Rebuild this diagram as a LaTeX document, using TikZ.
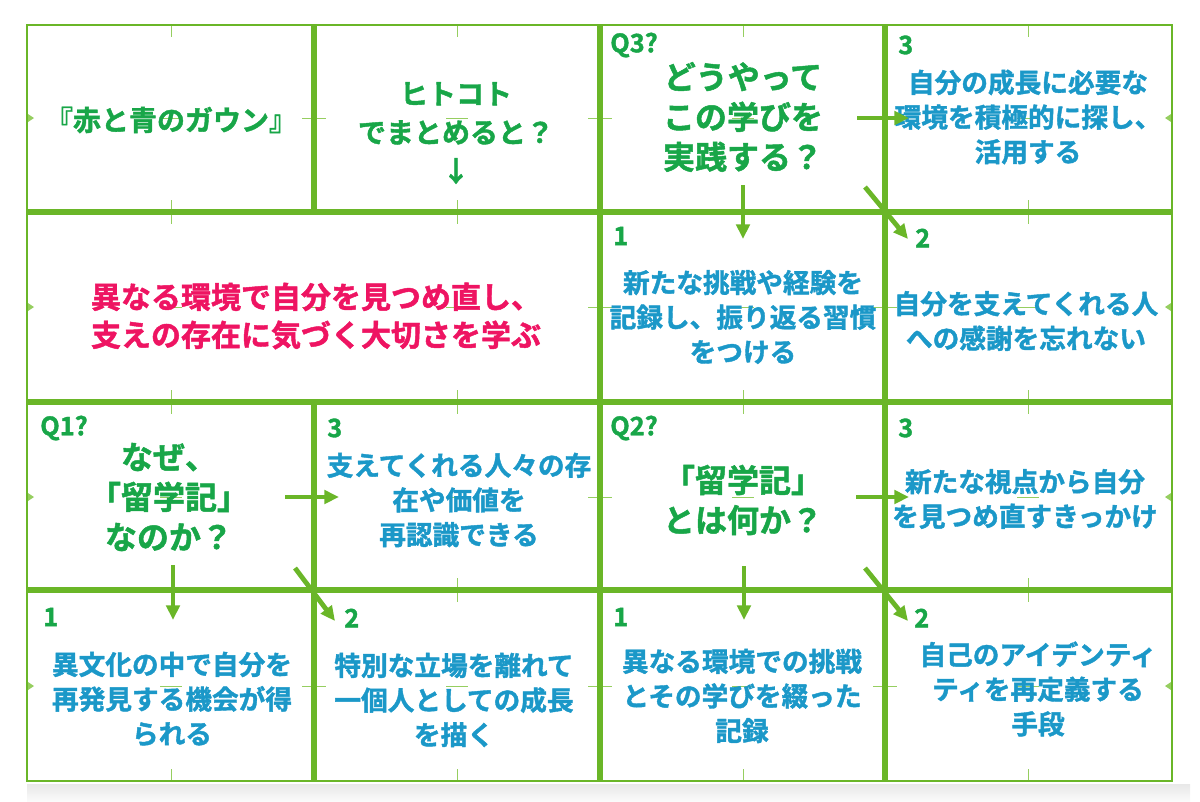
\documentclass[tikz,border=0pt]{standalone}
\usepackage{fontspec}
\setmainfont{Noto Sans CJK JP}[UprightFont={* Bold}, UprightFeatures={FakeBold=1.5}]
\usetikzlibrary{arrows.meta}
\definecolor{gridgreen}{RGB}{106,182,40}
\definecolor{guidegreen}{RGB}{150,206,96}
\definecolor{headgreen}{RGB}{24,166,72}
\definecolor{textblue}{RGB}{27,152,200}
\definecolor{keypink}{RGB}{238,20,98}
\tikzset{
  answer/.style={align=center, text=textblue, font=\fontsize{20}{26}\selectfont, inner sep=0.75pt},
  question/.style={align=center, text=headgreen, font=\fontsize{24}{30}\selectfont, inner sep=0.75pt},
  lead/.style={align=center, text=headgreen, font=\fontsize{21}{29}\selectfont, inner sep=0.75pt},
  tag/.style={anchor=west, text=headgreen, font=\fontsize{19}{22}\selectfont, inner sep=0.75pt},
  flow/.style={draw=gridgreen, line width=3.6pt, -{Triangle[length=11pt,width=10pt]}},
  guide/.style={draw=guidegreen, line width=0.6pt},
  rule/.style={draw=gridgreen, line width=4.8pt},
  border/.style={draw=gridgreen, line width=2.2pt},
}
\begin{document}
\begin{tikzpicture}[x=0.75pt,y=0.75pt,yscale=-1,xscale=1]
\useasboundingbox (0,0) rectangle (1200,801);
%Shape: shadow under the sheet
\shade [top color=black!9, bottom color=black!2, draw=none] (27,784) rectangle (1190,801);
%Shape: guide marks
\foreach \cy in {118,307,497,686} {
  \foreach \ex in {314,600,885} \draw [guide] (\ex-12,\cy) -- (\ex+12,\cy);
  \foreach \cx in {171,457,743,1028} \draw [guide] (\cx-11,\cy) -- (\cx+11,\cy);
  \fill [guidegreen] (28,\cy-4) -- (34,\cy) -- (28,\cy+4) -- cycle;
  \fill [guidegreen] (1171,\cy-4) -- (1165,\cy) -- (1171,\cy+4) -- cycle;
}
\foreach \cx in {171,457,743,1028} {
  \foreach \ey in {212,402,590} \draw [guide] (\cx,\ey-12) -- (\cx,\ey+12);
  \draw [guide] (\cx,25) -- (\cx,37);
  \draw [guide] (\cx,769) -- (\cx,781);
}
%Shape: grid
\draw [border] (27,25) rectangle (1172,781);
\draw [rule] (27,212) -- (1172,212);
\draw [rule] (27,402) -- (1172,402);
\draw [rule] (27,590) -- (1172,590);
\draw [rule] (314,25) -- (314,212);
\draw [rule] (314,402) -- (314,781);
\draw [rule] (600,25) -- (600,781);
\draw [rule] (885,25) -- (885,781);
% Text Node
\draw (171,120) node (title) [lead] {『赤と青のガウン』};
% Text Node
\draw (456,133) node (oneword) [lead] {ヒトコト\\でまとめると？\\↓};
% Text Node
\draw (316,316) node (summary) [align=center, text=keypink, font=\fontsize{22.5}{28.5}\selectfont, inner sep=0.75pt] {異なる環境で自分を見つめ直し、\\支えの存在に気づく大切さを学ぶ};
% Text Node
\draw (609,45) node (q3tag) [tag] {Q3?};
\draw (743,117) node (q3) [question] {どうやって\\この学びを\\実践する？};
\draw (897,45) node (q3tagc) [tag] {3};
\draw (1028,117) node (q3c) [answer] {自分の成長に必要な\\環境を積極的に探し、\\活用する};
\draw (612,236) node (q3taga) [tag] {1};
\draw (914,238) node (q3tagb) [tag] {2};
\draw (743,317) node (q3a) [answer] {新たな挑戦や経験を\\記録し、振り返る習慣\\をつける};
\draw (1026,321) node (q3b) [answer] {自分を支えてくれる人\\への感謝を忘れない};
% Text Node
\draw (39,428) node (q1tag) [tag] {Q1?};
\draw (169,497) node (q1) [question] {なぜ、\\「留学記」\\なのか？};
\draw (326,428) node (q1tagc) [tag] {3};
\draw (459,500) node (q1c) [answer] {支えてくれる人々の存\\在や価値を\\再認識できる};
\draw (42,617) node (q1taga) [tag] {1};
\draw (343,618) node (q1tagb) [tag] {2};
\draw (172,699) node (q1a) [answer] {異文化の中で自分を\\再発見する機会が得\\られる};
\draw (454,700) node (q1b) [answer] {特別な立場を離れて\\一個人としての成長\\を描く};
% Text Node
\draw (609,428) node (q2tag) [tag] {Q2?};
\draw (743,500) node (q2) [question] {「留学記」\\とは何か？};
\draw (897,428) node (q2tagc) [tag] {3};
\draw (1025,499) node (q2c) [answer] {新たな視点から自分\\を見つめ直すきっかけ};
\draw (612,617) node (q2taga) [tag] {1};
\draw (913,618) node (q2tagb) [tag] {2};
\draw (742,696) node (q2a) [answer] {異なる環境での挑戦\\とその学びを綴った\\記録};
\draw (1038,689) node (q2b) [answer] {自己のアイデンティ\\ティを再定義する\\手段};
%Arrows
\coordinate (q3e) at (857,118);  \coordinate (q3ce) at (909,118);
\coordinate (q3s) at (743,185);  \coordinate (q3ae) at (743,239);
\coordinate (q3d) at (865,187);  \coordinate (q3be) at (908,239);
\coordinate (q1e) at (285,497);  \coordinate (q1ce) at (339,497);
\coordinate (q1s) at (173,565);  \coordinate (q1ae) at (173,620);
\coordinate (q1d) at (295,568);  \coordinate (q1be) at (335,621);
\coordinate (q2e) at (856,497);  \coordinate (q2ce) at (909,497);
\coordinate (q2s) at (744,566);  \coordinate (q2ae) at (744,620);
\coordinate (q2d) at (865,568);  \coordinate (q2be) at (908,621);
\draw [flow] (q3e) -- (q3ce);
\draw [flow] (q3s) -- (q3ae);
\draw [flow] (q3d) -- (q3be);
\draw [flow] (q1e) -- (q1ce);
\draw [flow] (q1s) -- (q1ae);
\draw [flow] (q1d) -- (q1be);
\draw [flow] (q2e) -- (q2ce);
\draw [flow] (q2s) -- (q2ae);
\draw [flow] (q2d) -- (q2be);
\end{tikzpicture}
\end{document}
